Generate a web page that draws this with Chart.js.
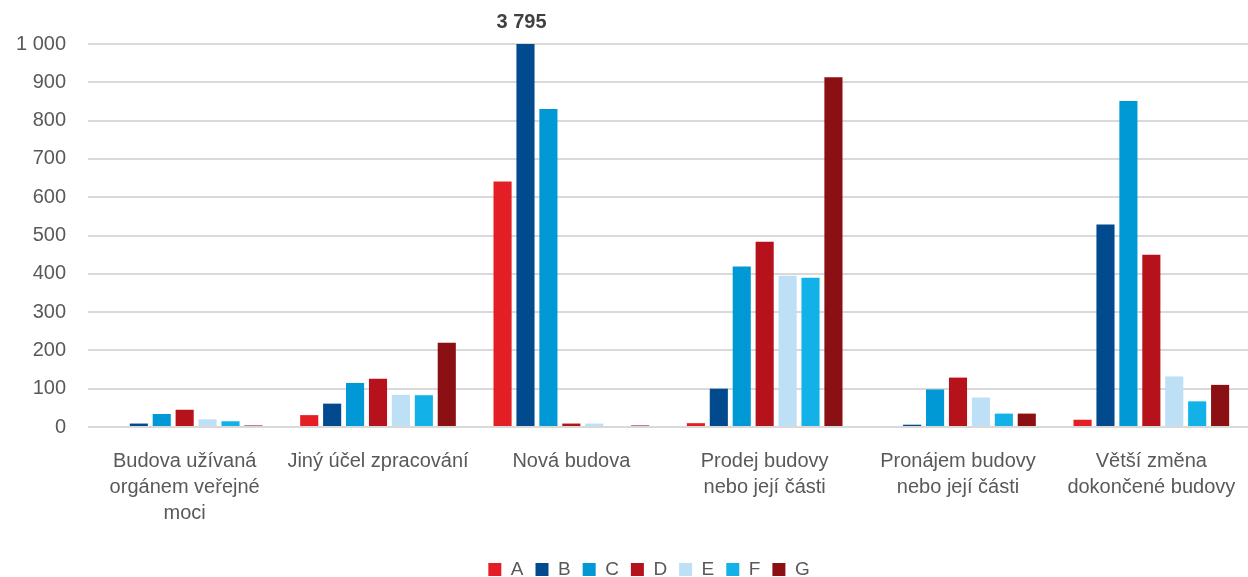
<!DOCTYPE html>
<html>
<head>
<meta charset="utf-8">
<script src="https://cdn.jsdelivr.net/npm/chart.js@4/dist/chart.umd.min.js"></script>
<style>
  html, body { margin: 0; padding: 0; background: #fff; }
  #wrap { width: 1248px; height: 577px; }
</style>
</head>
<body>
<div id="wrap"><canvas id="chart"></canvas></div>
<script>
const categories = [
  ["Budova užívaná", "orgánem veřejné", "moci"],
  ["Jiný účel zpracování"],
  ["Nová budova"],
  ["Prodej budovy", "nebo její části"],
  ["Pronájem budovy", "nebo její části"],
  ["Větší změna", "dokončené budovy"]
];

const seriesA = [0, 31, 641, 10, 0, 19];
const seriesB = [9, 61, 3795, 100, 6, 529];
const seriesC = [34, 115, 830, 419, 98, 851];
const seriesD = [45, 126, 9, 484, 129, 450];
const seriesE = [20, 84, 9, 395, 77, 132];
const seriesF = [15, 83, 0, 390, 35, 67];
const seriesG = [4, 220, 4, 913, 35, 110];

const seriesNames = ["A", "B", "C", "D", "E", "F", "G"];
const seriesColors = ["#E31E24", "#004A8D", "#0099D6", "#B5121B", "#BDE0F6", "#12B2E8", "#8B1014"];
const seriesData = [seriesA, seriesB, seriesC, seriesD, seriesE, seriesF, seriesG];

const yMax = 1000;
const yStep = 100;

const textColor = "#595959";
const fontFamily = "'Liberation Sans', Arial, sans-serif";

const spaced = v => String(v).replace(/\B(?=(\d{3})+(?!\d))/g, " ");

// values above the axis max get their value written above the clipped bar
const overflowLabels = {
  id: "overflowLabels",
  afterDatasetsDraw(chart) {
    const ctx = chart.ctx;
    const top = chart.chartArea.top;
    ctx.save();
    ctx.font = "bold 20px " + fontFamily;
    ctx.fillStyle = "#404040";
    ctx.textAlign = "center";
    ctx.textBaseline = "middle";
    chart.data.datasets.forEach((ds, i) => {
      const meta = chart.getDatasetMeta(i);
      ds.data.forEach((v, j) => {
        if (v > yMax) {
          const el = meta.data[j];
          ctx.fillText(spaced(v), el.x - 4, top - 22);
        }
      });
    });
    ctx.restore();
  }
};

// legend sits a bit right of centre and lower, like the original
const legendNudge = {
  id: "legendNudge",
  afterLayout(chart) {
    const lg = chart.legend;
    lg.left += 25; lg.right += 25;
    lg.top += 9; lg.bottom += 9;
  }
};

new Chart(document.getElementById("chart"), {
  type: "bar",
  data: {
    labels: categories,
    datasets: seriesNames.map((name, i) => ({
      label: name,
      data: seriesData[i],
      backgroundColor: seriesColors[i],
      borderWidth: 0,
      barPercentage: 0.79,
      categoryPercentage: 0.83
    }))
  },
  options: {
    responsive: true,
    maintainAspectRatio: false,
    animation: false,
    layout: { padding: { top: 44, right: 0, left: 0, bottom: -3 } },
    plugins: {
      legend: {
        position: "bottom",
        labels: {
          boxWidth: 13,
          boxHeight: 13,
          padding: 12,
          color: textColor,
          font: { family: fontFamily, size: 19 }
        }
      },
      tooltip: { enabled: false }
    },
    scales: {
      x: {
        afterFit(scale) { scale.paddingLeft = 0; scale.paddingRight = 0; },
        grid: { display: false },
        border: { display: false },
        ticks: {
          color: textColor,
          font: { family: fontFamily, size: 20, lineHeight: 1.3 },
          maxRotation: 0,
          autoSkip: false,
          padding: 13
        }
      },
      y: {
        min: 0,
        max: yMax,
        afterFit(scale) { scale.width = 88; },
        grid: { color: "#D9D9D9", lineWidth: 2, drawTicks: false },
        border: { display: false },
        ticks: {
          stepSize: yStep,
          color: textColor,
          padding: 22,
          font: { family: fontFamily, size: 20 },
          callback: v => spaced(v)
        }
      }
    }
  },
  plugins: [overflowLabels, legendNudge]
});
</script>
</body>
</html>
